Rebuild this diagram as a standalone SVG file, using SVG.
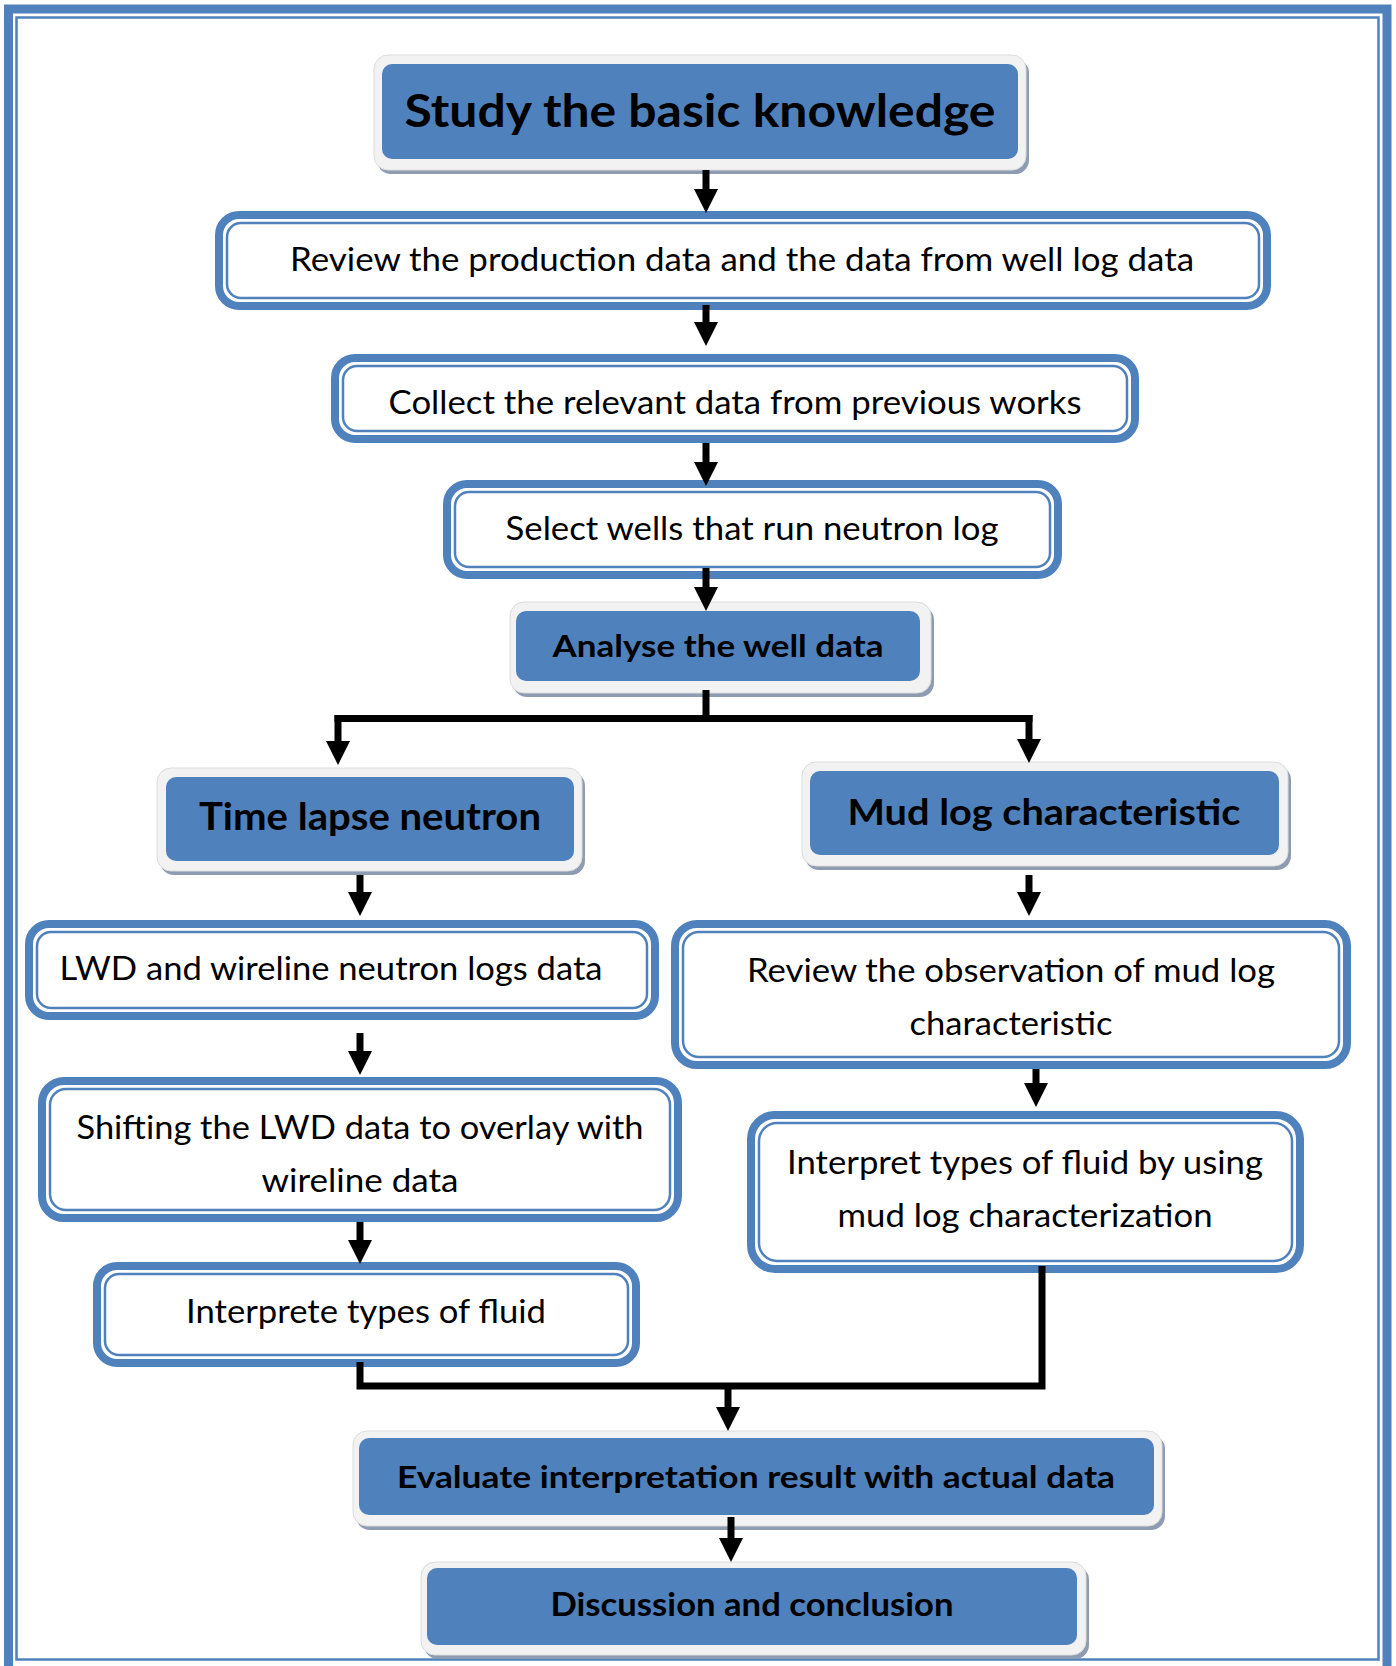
<svg xmlns="http://www.w3.org/2000/svg" width="1396" height="1666" viewBox="0 0 1396 1666">
<style>
.frame{fill:none;stroke:#4F81BD}
.halo{fill:#F2F2F2;stroke:#DCDCDC;stroke-width:1}
.shadow{fill:#8E9CB2}
.blue{fill:#4F81BD}
.wout{fill:#FFFFFF;stroke:#4F81BD;stroke-width:8}
.win{fill:none;stroke:#4F81BD;stroke-width:2.5}
.tb{font-family:Lato,"Open Sans","Liberation Sans",sans-serif;font-weight:bold;fill:#000;text-anchor:middle}
.tr{font-family:Lato,"Open Sans","Liberation Sans",sans-serif;font-size:33px;fill:#000;text-anchor:middle}
.conn{fill:none;stroke:#000;stroke-width:7}
</style>
<defs>
<marker id="arr" viewBox="0 0 24 24" refX="0" refY="12" markerWidth="24" markerHeight="24" orient="auto" markerUnits="userSpaceOnUse">
<path d="M0,0 L24,12 L0,24 Z" fill="#000"/>
</marker>
</defs>
<rect width="1396" height="1666" fill="#FFFFFF"/>
<rect class="frame" x="8.5" y="9" width="1378.5" height="1662" stroke-width="9"/>
<rect class="frame" x="16.5" y="17.5" width="1362" height="1642" stroke-width="2.5"/>

<g id="n1">
<rect class="shadow" x="377" y="59" width="652" height="115" rx="14"/>
<rect class="halo" x="374" y="55" width="652" height="115" rx="14"/>
<rect class="blue" x="382" y="64" width="636" height="95" rx="10"/>
<text class="tb" x="700" y="127" font-size="46" textLength="591" lengthAdjust="spacingAndGlyphs">Study the basic knowledge</text>
</g>
<g id="n2">
<rect class="wout" x="219" y="215" width="1048" height="91" rx="20"/>
<rect class="win" x="227" y="223" width="1032" height="75" rx="14"/>
<text class="tr" x="742" y="271" textLength="904" lengthAdjust="spacingAndGlyphs">Review the production data and the data from well log data</text>
</g>
<g id="n3">
<rect class="wout" x="335" y="358" width="800" height="81" rx="20"/>
<rect class="win" x="343" y="366" width="784" height="65" rx="14"/>
<text class="tr" x="735" y="414" textLength="693" lengthAdjust="spacingAndGlyphs">Collect the relevant data from previous works</text>
</g>
<g id="n4">
<rect class="wout" x="447" y="484" width="611" height="91" rx="20"/>
<rect class="win" x="455" y="492" width="595" height="75" rx="14"/>
<text class="tr" x="752" y="540" textLength="493" lengthAdjust="spacingAndGlyphs">Select wells that run neutron log</text>
</g>
<g id="n5">
<rect class="shadow" x="513" y="606" width="421" height="91" rx="14"/>
<rect class="halo" x="510" y="602" width="421" height="91" rx="14"/>
<rect class="blue" x="516" y="611" width="404" height="70" rx="10"/>
<text class="tb" x="718" y="657" font-size="31" textLength="331" lengthAdjust="spacingAndGlyphs">Analyse the well data</text>
</g>
<g id="n6">
<rect class="shadow" x="160" y="772" width="425" height="103" rx="14"/>
<rect class="halo" x="157" y="768" width="425" height="103" rx="14"/>
<rect class="blue" x="166" y="777" width="408" height="84" rx="10"/>
<text class="tb" x="370" y="830" font-size="38" textLength="342" lengthAdjust="spacingAndGlyphs">Time lapse neutron</text>
</g>
<g id="n7">
<rect class="shadow" x="805" y="766" width="486" height="104" rx="14"/>
<rect class="halo" x="802" y="762" width="486" height="104" rx="14"/>
<rect class="blue" x="810" y="771" width="469" height="84" rx="10"/>
<text class="tb" x="1044" y="825" font-size="36" textLength="393" lengthAdjust="spacingAndGlyphs">Mud log characteristic</text>
</g>
<g id="n8">
<rect class="wout" x="29" y="924" width="626" height="92" rx="20"/>
<rect class="win" x="37" y="932" width="610" height="76" rx="14"/>
<text class="tr" x="331" y="980" textLength="543" lengthAdjust="spacingAndGlyphs">LWD and wireline neutron logs data</text>
</g>
<g id="n9">
<rect class="wout" x="675" y="924" width="672" height="141" rx="22"/>
<rect class="win" x="683" y="932" width="656" height="125" rx="16"/>
<text class="tr" x="1011" y="982" textLength="528" lengthAdjust="spacingAndGlyphs">Review the observation of mud log</text>
<text class="tr" x="1011" y="1035" textLength="203" lengthAdjust="spacingAndGlyphs">characteristic</text>
</g>
<g id="n10">
<rect class="wout" x="42" y="1081" width="636" height="137" rx="22"/>
<rect class="win" x="50" y="1089" width="620" height="121" rx="16"/>
<text class="tr" x="360" y="1139" textLength="567" lengthAdjust="spacingAndGlyphs">Shifting the LWD data to overlay with</text>
<text class="tr" x="360" y="1192" textLength="197" lengthAdjust="spacingAndGlyphs">wireline data</text>
</g>
<g id="n11">
<rect class="wout" x="751" y="1115" width="549" height="154" rx="24"/>
<rect class="win" x="759" y="1123" width="533" height="138" rx="18"/>
<text class="tr" x="1025" y="1174" textLength="476" lengthAdjust="spacingAndGlyphs">Interpret types of fluid by using</text>
<text class="tr" x="1025" y="1227" textLength="375" lengthAdjust="spacingAndGlyphs">mud log characterization</text>
</g>
<g id="n12">
<rect class="wout" x="97" y="1266" width="539" height="97" rx="20"/>
<rect class="win" x="105" y="1274" width="523" height="81" rx="14"/>
<text class="tr" x="366" y="1323" textLength="360" lengthAdjust="spacingAndGlyphs">Interprete types of fluid</text>
</g>
<g id="n13">
<rect class="shadow" x="356" y="1435" width="809" height="95" rx="14"/>
<rect class="halo" x="353" y="1431" width="809" height="95" rx="14"/>
<rect class="blue" x="359" y="1438" width="795" height="77" rx="10"/>
<text class="tb" x="756" y="1488" font-size="31" textLength="718" lengthAdjust="spacingAndGlyphs">Evaluate interpretation result with actual data</text>
</g>
<g id="n14">
<rect class="shadow" x="424" y="1566" width="665" height="93" rx="14"/>
<rect class="halo" x="421" y="1562" width="665" height="93" rx="14"/>
<rect class="blue" x="427" y="1568" width="650" height="77" rx="10"/>
<text class="tb" x="752" y="1616" font-size="32" textLength="403" lengthAdjust="spacingAndGlyphs">Discussion and conclusion</text>
</g>

<g id="connectors">
<line class="conn" x1="706" y1="170" x2="706" y2="189" marker-end="url(#arr)"/>
<line class="conn" x1="706" y1="305" x2="706" y2="322" marker-end="url(#arr)"/>
<line class="conn" x1="706" y1="443" x2="706" y2="462" marker-end="url(#arr)"/>
<line class="conn" x1="706" y1="568" x2="706" y2="587" marker-end="url(#arr)"/>
<path class="conn" d="M706,690 V718.5 M334.5,718.5 H1032.5"/>
<line class="conn" x1="338" y1="715" x2="338" y2="741" marker-end="url(#arr)"/>
<line class="conn" x1="1029" y1="715" x2="1029" y2="739" marker-end="url(#arr)"/>
<line class="conn" x1="360" y1="875" x2="360" y2="892" marker-end="url(#arr)"/>
<line class="conn" x1="1029" y1="875" x2="1029" y2="892" marker-end="url(#arr)"/>
<line class="conn" x1="360" y1="1033" x2="360" y2="1051" marker-end="url(#arr)"/>
<line class="conn" x1="1036" y1="1069" x2="1036" y2="1083" marker-end="url(#arr)"/>
<line class="conn" x1="360" y1="1222" x2="360" y2="1240" marker-end="url(#arr)"/>
<path class="conn" d="M360,1362 V1386 H1042 V1266"/>
<line class="conn" x1="728" y1="1386" x2="728" y2="1407" marker-end="url(#arr)"/>
<line class="conn" x1="731" y1="1517" x2="731" y2="1538" marker-end="url(#arr)"/>
</g>
</svg>
